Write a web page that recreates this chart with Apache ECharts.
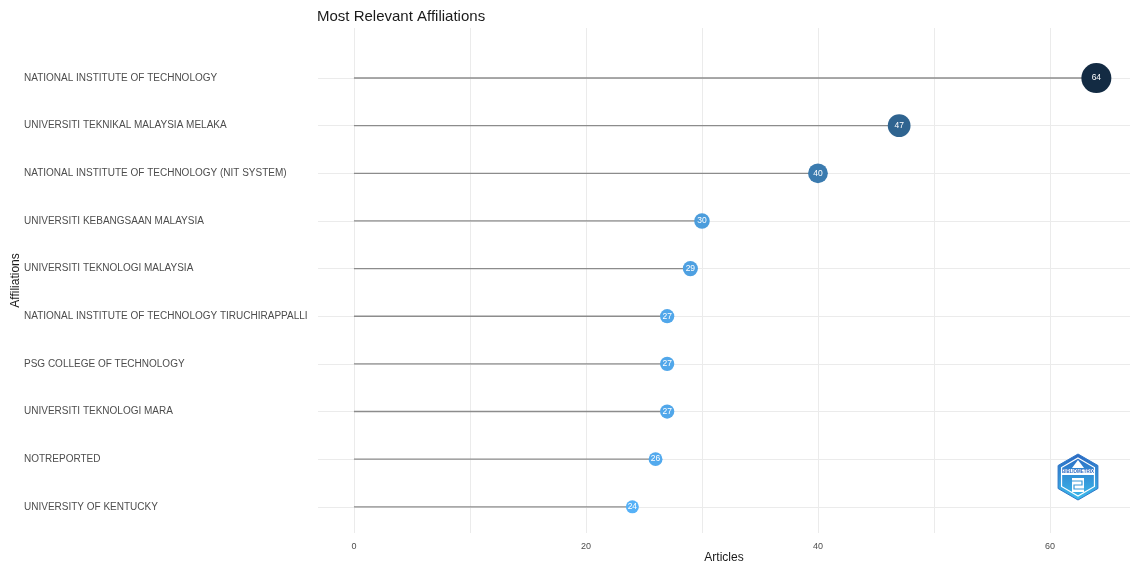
<!DOCTYPE html>
<html>
<head>
<meta charset="utf-8">
<script src="https://cdn.jsdelivr.net/npm/echarts@6/dist/echarts.min.js"></script>
<style>
html,body{margin:0;padding:0;background:#fff;}
#c{width:1130px;height:565px;}
</style>
</head>
<body>
<div id="c"></div>
<script>
const affiliations = [
  "NATIONAL INSTITUTE OF TECHNOLOGY",
  "UNIVERSITI TEKNIKAL MALAYSIA MELAKA",
  "NATIONAL INSTITUTE OF TECHNOLOGY (NIT SYSTEM)",
  "UNIVERSITI KEBANGSAAN MALAYSIA",
  "UNIVERSITI TEKNOLOGI MALAYSIA",
  "NATIONAL INSTITUTE OF TECHNOLOGY TIRUCHIRAPPALLI",
  "PSG COLLEGE OF TECHNOLOGY",
  "UNIVERSITI TEKNOLOGI MARA",
  "NOTREPORTED",
  "UNIVERSITY OF KENTUCKY"
];
const articles = [64, 47, 40, 30, 29, 27, 27, 27, 26, 24];
const xGridValues = [0, 10, 20, 30, 40, 50, 60];
const xTickLabels = [0, 20, 40, 60];
const rowIndex = affiliations.map((a, i) => i);

const FONT = "'Liberation Sans', Arial, sans-serif";
const points = articles.map((v, i) => [v, i]);

const chart = echarts.init(document.getElementById('c'), null, {renderer: 'canvas'});

const cx = 1078, cy = 477;
function hex(r) {
  const pts = [];
  for (let k = 0; k < 6; k++) {
    const a = (-90 + 60 * k) * Math.PI / 180;
    pts.push([cx + r * Math.cos(a), cy + r * Math.sin(a)]);
  }
  return pts;
}

chart.setOption({
  animation: false,
  backgroundColor: '#ffffff',
  textStyle: {fontFamily: FONT},
  title: {
    text: 'Most Relevant Affiliations',
    left: 312, top: 4,
    textStyle: {fontSize: 15, fontWeight: 'normal', color: '#1a1a1a', fontFamily: FONT}
  },
  grid: {left: 318, right: 0, top: 28, bottom: 32, containLabel: false, outerBoundsMode: 'none'},
  xAxis: {
    type: 'value',
    min: -3.1, max: 66.9,
    name: 'Articles',
    nameLocation: 'middle',
    nameGap: 19,
    nameMoveOverlap: false,
    nameTextStyle: {fontSize: 12, color: '#1a1a1a', fontFamily: FONT},
    axisLine: {show: false},
    axisTick: {show: false, customValues: xGridValues},
    axisLabel: {customValues: xTickLabels, fontSize: 9, color: '#4d4d4d', margin: 9, fontFamily: FONT},
    splitLine: {show: true, lineStyle: {color: '#ebebeb', width: 1}}
  },
  yAxis: {
    type: 'value',
    inverse: true,
    min: -1.05, max: 9.55,
    name: 'Affiliations',
    nameLocation: 'middle',
    nameGap: 296,
    nameMoveOverlap: false,
    nameTextStyle: {fontSize: 12, color: '#1a1a1a', fontFamily: FONT},
    axisLine: {show: false},
    axisTick: {show: false, customValues: rowIndex},
    axisLabel: {
      customValues: rowIndex,
      formatter: v => affiliations[Math.round(v)] || '',
      align: 'left',
      margin: 294,
      fontSize: 10,
      color: '#4d4d4d',
      fontFamily: FONT
    },
    splitLine: {show: true, lineStyle: {color: '#ebebeb', width: 1}}
  },
  visualMap: {
    show: false,
    type: 'continuous',
    min: 24, max: 64,
    dimension: 0,
    seriesIndex: 1,
    inRange: {color: ['#56B1F7', '#132B43'], symbolSize: [13, 30]}
  },
  series: [
    {
      type: 'custom',
      data: points,
      encode: {x: 0, y: 1},
      renderItem: function (params, api) {
        const y = api.value(1);
        const p0 = api.coord([0, y]);
        const p1 = api.coord([api.value(0), y]);
        return {
          type: 'line',
          shape: {x1: p0[0], y1: p0[1], x2: p1[0], y2: p1[1]},
          style: {stroke: '#8c8c8c', lineWidth: 1.3}
        };
      },
      z: 2
    },
    {
      type: 'scatter',
      data: points,
      symbol: 'circle',
      itemStyle: {opacity: 1},
      label: {
        show: true,
        position: 'inside',
        formatter: p => p.value[0],
        color: '#ffffff',
        fontSize: 8.5,
        fontFamily: FONT
      },
      z: 3
    }
  ],
  graphic: [
    {
      type: 'polygon',
      shape: {points: hex(23)},
      style: {
        fill: new echarts.graphic.LinearGradient(0, 0, 0, 1, [
          {offset: 0, color: '#2c68c2'},
          {offset: 1, color: '#3bbcec'}
        ]),
        stroke: '#2f78c9', lineWidth: 1
      },
      z: 10
    },
    {
      type: 'polygon',
      shape: {points: hex(19)},
      style: {fill: 'none', stroke: '#ffffff', lineWidth: 1.2},
      z: 11
    },
    {
      type: 'rect',
      shape: {x: cx - 17, y: cy - 8, width: 34, height: 6},
      style: {fill: '#ffffff'},
      z: 11
    },
    {
      type: 'text',
      x: cx, y: cy - 5,
      style: {text: 'BIBLIOMETRIX', fontSize: 4.5, fontWeight: 'bold', fill: '#2c68c2', align: 'center', verticalAlign: 'middle', fontFamily: FONT},
      z: 12
    },
    {
      type: 'polygon',
      shape: {points: [[cx, cy - 17], [cx + 6, cy - 9], [cx - 6, cy - 9]]},
      style: {fill: '#ffffff'},
      z: 11
    },
    {
      type: 'rect',
      shape: {x: cx - 6, y: cy + 1, width: 12, height: 14},
      style: {fill: '#ffffff'},
      z: 11
    },
    {
      type: 'polyline',
      shape: {points: [[cx - 6, cy + 4], [cx + 4, cy + 4], [cx + 4, cy + 8], [cx - 4, cy + 8], [cx - 4, cy + 12], [cx + 6, cy + 12]]},
      style: {stroke: '#3a9ad8', lineWidth: 1.2, fill: 'none'},
      z: 12
    }
  ]
});
</script>
</body>
</html>
